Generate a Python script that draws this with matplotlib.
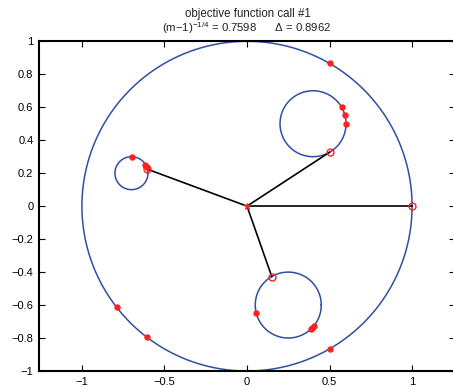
import numpy as np
import matplotlib
matplotlib.use("Agg")
import matplotlib.pyplot as plt

plt.rcParams['font.family'] = ['Liberation Sans', 'DejaVu Sans']
plt.rcParams['mathtext.fontset'] = 'custom'
plt.rcParams['mathtext.rm'] = 'Liberation Sans'

# Data
big_radius = 1.0
centers_x = [0.4, -0.7, 0.25]
centers_y = [0.5, 0.2, -0.6]
radii = [0.2, 0.1, 0.2]

contact_x = [1.0, 0.5, -0.603, 0.15]
contact_y = [0.0, 0.327, 0.224, -0.427]

dots_x = [0.50, 0.50, -0.79, -0.606, 0.573, 0.594, 0.602,
          -0.697, -0.616, -0.608, 0.056, 0.385, 0.395, 0.405]
dots_y = [0.866, -0.866, -0.61, -0.792, 0.60, 0.551, 0.50,
          0.30, 0.25, 0.238, -0.648, -0.745, -0.737, -0.727]

xticks = [-1, -0.5, 0, 0.5, 1]
yticks = [-1, -0.8, -0.6, -0.4, -0.2, 0, 0.2, 0.4, 0.6, 0.8, 1]

blue = '#2f4fa2'

fig = plt.figure(figsize=(4.53, 3.87), dpi=100)
ax = fig.add_axes([39/453, 16/387, 416/453, 329.7/387])

t = np.linspace(0, 2*np.pi, 400)
ax.plot(big_radius*np.cos(t), big_radius*np.sin(t), color=blue, lw=1.1)
for cx, cy, r in zip(centers_x, centers_y, radii):
    ax.plot(cx + r*np.cos(t), cy + r*np.sin(t), color=blue, lw=1.1)

for px, py in zip(contact_x, contact_y):
    ax.plot([0, px], [0, py], color='black', lw=1.2)

ax.plot(dots_x, dots_y, 'o', color='#ff2020', ms=3.6, mec='#ff2020')
ax.plot(contact_x, contact_y, 'o', mfc='none', mec='#ff2020', ms=5, mew=1.0)
ax.plot([0], [0], '*', color='#ff2020', ms=5, mew=0.8)

ax.set_xlim(-1.26, 1.26)
ax.set_ylim(-1, 1)
ax.set_xticks(xticks)
ax.set_xticklabels(['\u22121', '\u22120.5', '0', '0.5', '1'])
ax.set_yticks(yticks)
ax.set_yticklabels([('\u2212' + f'{abs(v):g}') if v < 0 else f'{v:g}' for v in yticks])
ax.tick_params(direction='in', length=4, width=0.8, labelsize=8, pad=4,
               top=True, right=True, colors='black')
for s in ax.spines.values():
    s.set_linewidth(1.5)

fig.text(248/453, 1 - 14/387, 'objective function call #1', ha='center', va='center',
         fontsize=8.3, color='#222222')
fig.text(247/453, 1 - 28.5/387,
         '(m\u22121)$^{\\mathregular{\u22121/4}}$ = 0.7598      \u0394 = 0.8962',
         ha='center', va='center', fontsize=8.2, color='#222222')

fig.savefig('out.png', dpi=100)
